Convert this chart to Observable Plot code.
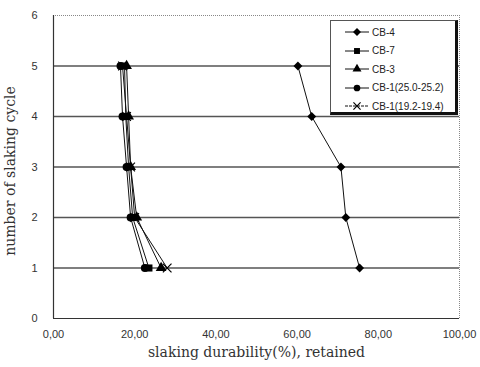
<!DOCTYPE html>
<html><head><meta charset="utf-8">
<script src="https://cdn.jsdelivr.net/npm/d3@7"></script>
<script src="https://cdn.jsdelivr.net/npm/@observablehq/plot@0.6"></script>
<style>
body{margin:0;background:#fff;}
#wrap{position:relative;width:480px;height:367px;}
#legend{position:absolute;left:330px;top:20px;width:124px;height:91px;border:1px solid #555;border-right:3px solid #111;border-bottom:3px solid #111;background:#fff;font:10px "Liberation Sans",Arial,sans-serif;color:#222;box-sizing:content-box;}
.li{position:absolute;left:0;height:14px;display:flex;align-items:center;}
.li svg{margin-left:14px;margin-right:3px;}
</style></head>
<body><div id="wrap"><div id="chart"></div><div id="legend"></div></div>
<script>
const cycles = [5, 4, 3, 2, 1];
const seriesNames = ["CB-4", "CB-7", "CB-3", "CB-1(25.0-25.2)", "CB-1(19.2-19.4)"];
const cb4 = [60.2, 63.6, 70.8, 72.0, 75.4];
const cb7 = [17.5, 17.8, 18.5, 19.5, 23.5];
const cb3 = [18.0, 18.5, 19.0, 20.5, 26.5];
const cb1a = [16.5, 17.0, 18.0, 19.0, 22.5];
const cb1b = [17.0, 18.0, 19.0, 20.0, 28.0];
const symbols = ["diamond2", "square", "triangle", "circle", "times"];
const xTicks = [0, 20, 40, 60, 80, 100];
const yTicks = [0, 1, 2, 3, 4, 5, 6];

const allVals = [cb4, cb7, cb3, cb1a, cb1b];
const data = [];
allVals.forEach((vals, si) => vals.forEach((v, i) => data.push({series: seriesNames[si], x: v, y: cycles[i], sym: symbols[si]})));
const filled = data.filter(d => d.sym !== "times");
const crosses = data.filter(d => d.sym === "times");
const fmt = d => d.toFixed(2).replace(".", ",");

const chart = Plot.plot({
  width: 480, height: 367,
  marginLeft: 53, marginRight: 21, marginTop: 15, marginBottom: 49,
  style: {fontFamily: '"Liberation Sans", Arial, sans-serif', fontSize: "11px", color: "#333", background: "#fff"},
  x: {domain: [0, 100]},
  y: {domain: [0, 6]},
  symbol: {domain: symbols, range: symbols},
  marks: [
    Plot.ruleY([1, 2, 3, 4, 5], {stroke: "#555", strokeWidth: 1.5}),
    Plot.ruleY([6], {stroke: "#888", strokeDasharray: "1,1"}),
    Plot.ruleX([100], {stroke: "#888", strokeDasharray: "1,1"}),
    Plot.ruleX([0], {stroke: "#333", strokeWidth: 1.2}),
    Plot.ruleY([0], {stroke: "#333", strokeWidth: 1.2}),
    Plot.axisX({ticks: xTicks, tickFormat: fmt, tickSize: 0, tickPadding: 12, label: null}),
    Plot.axisY({ticks: yTicks, tickFormat: d => String(d), tickSize: 0, tickPadding: 16, label: null}),
    Plot.text(["slaking durability(%), retained"], {frameAnchor: "bottom", dy: 38, fontFamily: '"DejaVu Serif", "Liberation Serif", serif', fontSize: 14, fill: "#333"}),
    Plot.text(["number of slaking cycle"], {frameAnchor: "left", dx: -43, dy: 4, rotate: -90, textAnchor: "middle", fontFamily: '"DejaVu Serif", "Liberation Serif", serif', fontSize: 14, fill: "#333"}),
    Plot.line(data, {x: "x", y: "y", z: "series", stroke: "#111", strokeWidth: 1}),
    Plot.dot(filled, {x: "x", y: "y", symbol: "sym", fill: "#000", r: 4}),
    Plot.dot(crosses, {x: "x", y: "y", symbol: "sym", stroke: "#000", strokeWidth: 1.2, r: 4})
  ]
});
document.getElementById("chart").appendChild(chart);

// legend
const lg = document.getElementById("legend");
const d3syms = {"diamond2": d3.symbolDiamond2, "square": d3.symbolSquare, "triangle": d3.symbolTriangle, "circle": d3.symbolCircle, "times": d3.symbolTimes};
seriesNames.forEach((name, i) => {
  const div = document.createElement("div");
  div.className = "li";
  div.style.top = (4 + i * 18.5) + "px";
  const sym = symbols[i];
  const s = d3.create("svg").attr("width", 24).attr("height", 12);
  s.append("line").attr("x1", 0).attr("x2", 24).attr("y1", 6).attr("y2", 6).attr("stroke", "#111").attr("stroke-width", 1).attr("stroke-dasharray", i === 4 ? "3,1" : null);
  const g = s.append("path").attr("d", d3.symbol(d3syms[sym], sym === "diamond2" ? 40 : 35)()).attr("transform", "translate(12,6)");
  if (sym === "times") g.attr("fill", "none").attr("stroke", "#000").attr("stroke-width", 1.2);
  else g.attr("fill", "#000");
  div.appendChild(s.node());
  const t = document.createElement("span");
  t.textContent = name;
  div.appendChild(t);
  lg.appendChild(div);
});
</script>
</body></html>
